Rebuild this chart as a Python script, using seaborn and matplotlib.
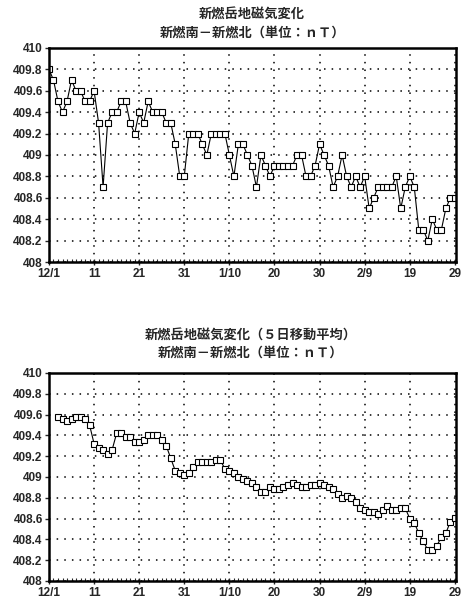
import numpy as np
import pandas as pd
import seaborn as sns
import matplotlib.pyplot as plt
import matplotlib.dates as mdates

# daily values 12/1 .. 2/29 (nT)
daily = [409.8, 409.7, 409.5, 409.4, 409.5, 409.7, 409.6, 409.6, 409.5, 409.5,
         409.6, 409.3, 408.7, 409.3, 409.4, 409.4, 409.5, 409.5, 409.3, 409.2,
         409.4, 409.3, 409.5, 409.4, 409.4, 409.4, 409.3, 409.3, 409.1, 408.8,
         408.8, 409.2, 409.2, 409.2, 409.1, 409.0, 409.2, 409.2, 409.2, 409.2,
         409.0, 408.8, 409.1, 409.1, 409.0, 408.9, 408.7, 409.0, 408.9, 408.8,
         408.9, 408.9, 408.9, 408.9, 408.9, 409.0, 409.0, 408.8, 408.8, 408.9,
         409.1, 409.0, 408.9, 408.7, 408.8, 409.0, 408.8, 408.7, 408.8, 408.7,
         408.8, 408.5, 408.6, 408.7, 408.7, 408.7, 408.7, 408.8, 408.5, 408.7,
         408.8, 408.7, 408.3, 408.3, 408.2, 408.4, 408.3, 408.3, 408.5, 408.6,
         408.6]

# 5-day moving average, 12/3 .. 2/29
avg5 = [409.58, 409.56, 409.54, 409.56, 409.58, 409.58, 409.56, 409.50, 409.32, 409.28,
        409.26, 409.22, 409.26, 409.42, 409.42, 409.38, 409.38, 409.34, 409.34, 409.36,
        409.40, 409.40, 409.40, 409.36, 409.30, 409.18, 409.06, 409.04, 409.02, 409.04,
        409.10, 409.14, 409.14, 409.14, 409.14, 409.16, 409.16, 409.08, 409.06, 409.04,
        409.00, 408.98, 408.96, 408.94, 408.90, 408.86, 408.86, 408.90, 408.88, 408.88,
        408.90, 408.92, 408.94, 408.92, 408.90, 408.90, 408.92, 408.92, 408.94, 408.92,
        408.90, 408.88, 408.84, 408.80, 408.82, 408.80, 408.76, 408.70, 408.68, 408.66,
        408.66, 408.64, 408.68, 408.72, 408.68, 408.68, 408.70, 408.70, 408.60, 408.56,
        408.46, 408.38, 408.30, 408.30, 408.34, 408.42, 408.46, 408.57, 408.61]

dates = pd.date_range("2003-12-01", "2004-02-29")
dates_avg = pd.date_range("2003-12-03", "2004-02-29")

tick_dates = pd.date_range("2003-12-01", periods=10, freq="10D")
tick_labels = ["12/1", "11", "21", "31", "1/10", "20", "30", "2/9", "19", "29"]
yticks = [408, 408.2, 408.4, 408.6, 408.8, 409, 409.2, 409.4, 409.6, 409.8, 410]
ylabels = ["408", "408.2", "408.4", "408.6", "408.8", "409",
           "409.2", "409.4", "409.6", "409.8", "410"]

title1 = "新燃岳地磁気変化"
title1b = "新燃岳地磁気変化（５日移動平均）"
title2 = "新燃南－新燃北（単位：ｎＴ）"

sns.set_style("white")
plt.rcParams['font.family'] = ['Noto Sans CJK JP', 'DejaVu Sans']

fig = plt.figure(figsize=(4.62, 6.03), dpi=100)
ax1 = fig.add_axes([0.106, 0.5655, 0.881, 0.355])
ax2 = fig.add_axes([0.106, 0.0365, 0.881, 0.345])

def draw(ax, x, y):
    sns.lineplot(x=x, y=y, ax=ax, color="black", linewidth=0.8,
                 marker="s", markersize=5, markerfacecolor="white",
                 markeredgecolor="black", markeredgewidth=0.8)
    ax.set_xlim(dates[0], dates[-1] + pd.Timedelta(hours=6))
    ax.set_ylim(408, 410)
    ax.set_xticks(tick_dates)
    ax.set_xticklabels(tick_labels)
    ax.xaxis.set_minor_locator(mdates.DayLocator())
    ax.set_yticks(yticks)
    ax.set_yticklabels(ylabels)
    ax.set_xlabel("")
    ax.set_ylabel("")
    ax.grid(True, which="major", color="black", linestyle=(0, (1, 4)), linewidth=1.1)
    for s in ax.spines.values():
        s.set_color("black")
        s.set_linewidth(1.8)
    ax.tick_params(axis="y", direction="out", length=3, width=1, pad=1.5, left=True)
    ax.tick_params(axis="x", which="major", direction="inout", length=5, width=1,
                   pad=2, bottom=True)
    ax.tick_params(axis="x", which="minor", direction="in", length=2.5, width=0.8,
                   bottom=True)
    for lab in ax.get_xticklabels() + ax.get_yticklabels():
        lab.set_family("Liberation Sans")
        lab.set_weight("bold")
        lab.set_fontsize(8.5)

draw(ax1, dates, daily)
draw(ax2, dates_avg, avg5)

fig.text(0.546, 1 - 15 / 603, title1, ha="center", va="center", fontsize=9.5, weight="bold")
fig.text(0.546, 1 - 33 / 603, title2, ha="center", va="center", fontsize=9.5, weight="bold")
fig.text(0.543, 1 - 336 / 603, title1b, ha="center", va="center", fontsize=9.5, weight="bold")
fig.text(0.543, 1 - 353 / 603, title2, ha="center", va="center", fontsize=9.5, weight="bold")

fig.savefig("out.png", dpi=100, facecolor="white")
